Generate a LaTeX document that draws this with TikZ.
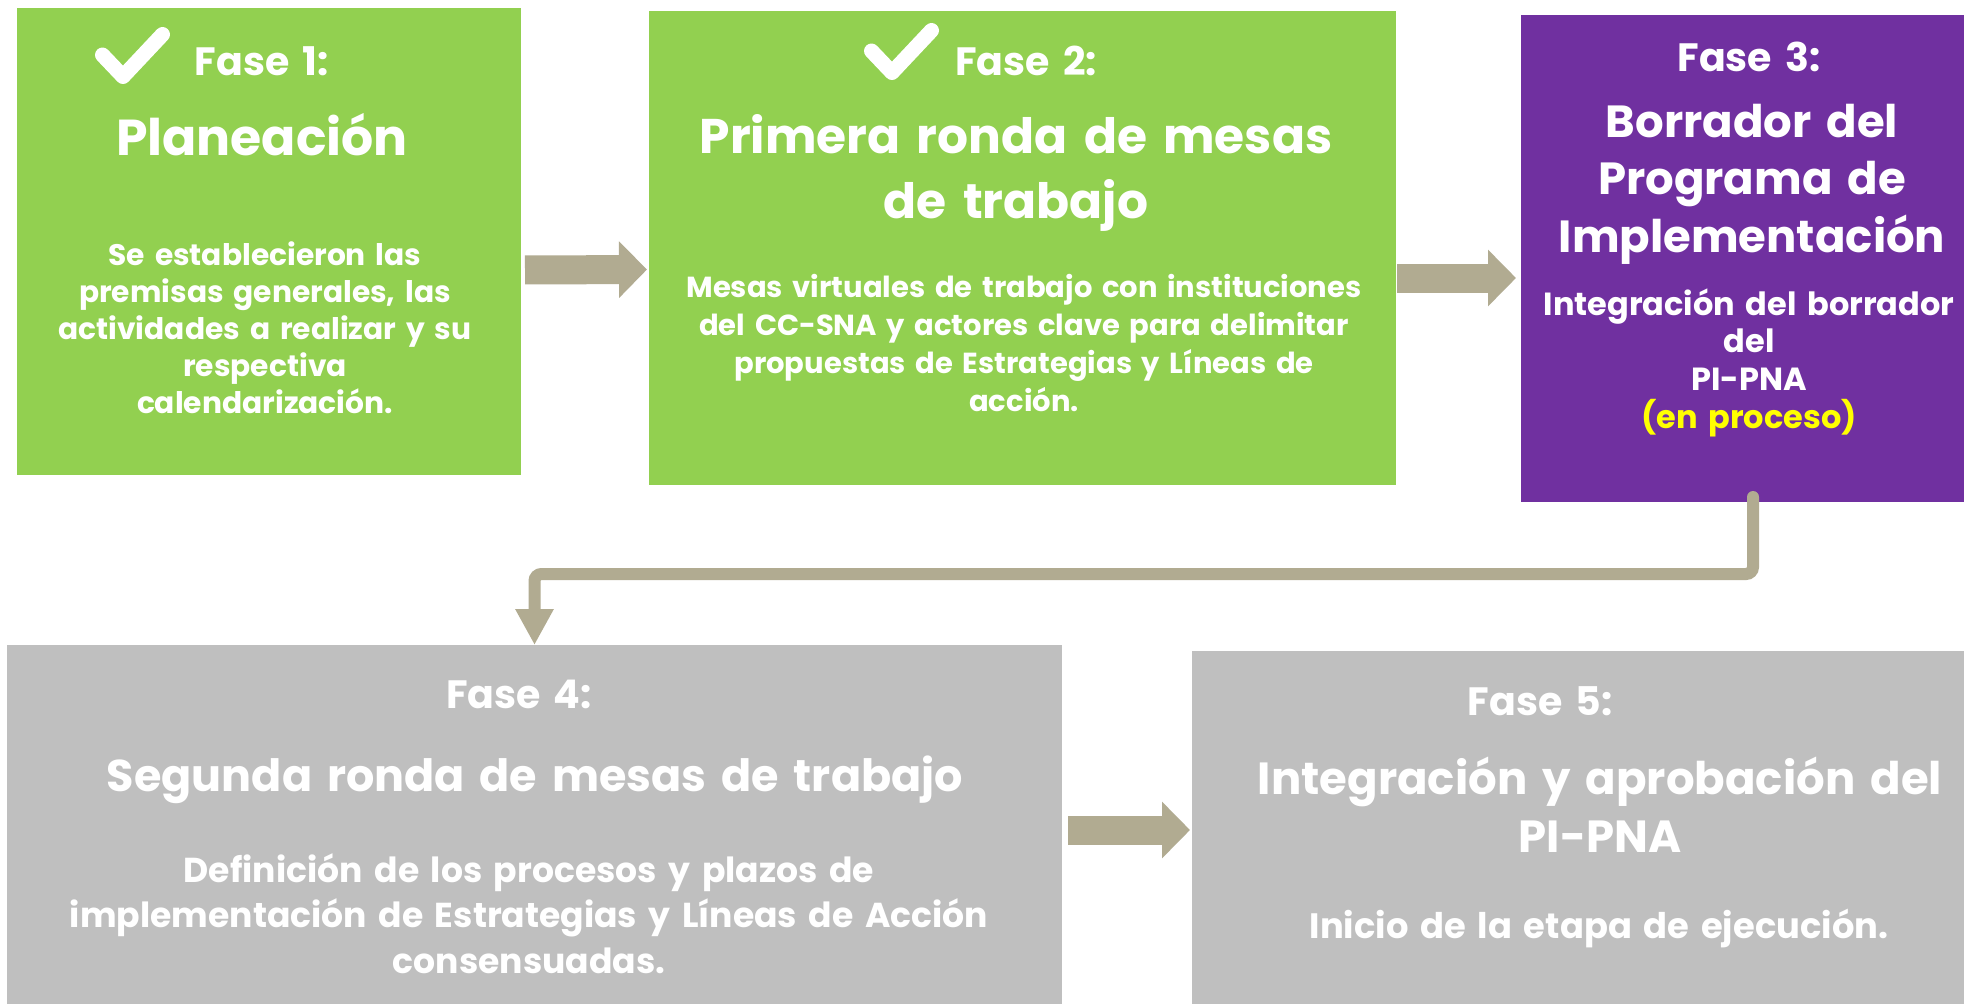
\documentclass[tikz,border=0pt]{standalone}
\usepackage{fontspec}
\setmainfont{Poppins}
\usetikzlibrary{arrows.meta}
\definecolor{fgreen}{HTML}{92D050}
\definecolor{fpurple}{HTML}{7030A0}
\definecolor{fgray}{HTML}{BFBFBF}
\definecolor{ftan}{HTML}{B1AB91}
\definecolor{fyellow}{HTML}{FFFF00}
\begin{document}
\begin{tikzpicture}[x=1pt,y=-1pt,
  box/.style={draw=none, inner sep=0pt, outer sep=0pt, anchor=center},
  txt/.style={text=white, inner sep=0pt, anchor=base, align=center, text width=1100pt},
  fase/.style={txt, font={\fontsize{39.5}{45}\selectfont\bfseries}},
  blockarr/.style={draw=ftan, line width=29pt, -{Triangle[length=28pt,width=55pt]}},
  elbow/.style={draw=ftan, line width=12pt, line cap=round, rounded corners=7pt, -{Triangle[length=36pt,width=36pt]}},
  checkm/.style={draw=white, line width=15pt, line cap=round, line join=round}
]
\useasboundingbox (0,0) rectangle (1964,1004);
\fill[white] (0,0) rectangle (1964,1004);

% boxes
\node[box, fill=fgreen, minimum width=504pt, minimum height=467pt] (b1) at (269,241.5) {};
\node[box, fill=fgreen, minimum width=747pt, minimum height=474pt] (b2) at (1022.5,248) {};
\node[box, fill=fpurple, minimum width=443pt, minimum height=487pt] (b3) at (1742.5,258.5) {};
\node[box, fill=fgray, minimum width=1055pt, minimum height=359pt] (b4) at (534.5,824.5) {};
\node[box, fill=fgray, minimum width=772pt, minimum height=353pt] (b5) at (1578,827.5) {};

% check marks
\draw[checkm] (102.5,55) -- (123,76.5) -- (162.5,34.5);
\draw[checkm] (871.5,51) -- (892,72.5) -- (931.5,30.5);

% box 1
\node[fase] (f1) at (262,75) {Fase 1:};
\node[txt, font={\fontsize{50.5}{60}\selectfont\bfseries}] (t1) at (262,155) {Planeación};
\node[txt, font={\fontsize{29.7}{37}\selectfont\bfseries}] (d1) at (265,265) {Se establecieron las\\premisas generales, las\\actividades a realizar y su\\respectiva\\calendarización.};

% box 2
\node[fase] (f2) at (1026,75) {Fase 2:};
\node[txt, font={\fontsize{48.7}{65}\selectfont\bfseries}] (t2) at (1016,153) {Primera ronda de mesas\\de trabajo};
\node[txt, font={\fontsize{29}{38}\selectfont\bfseries}] (d2) at (1024,297) {Mesas virtuales de trabajo con instituciones\\del CC-SNA y actores clave para delimitar\\propuestas de Estrategias y Líneas de\\acción.};

% box 3
\node[fase] (f3) at (1749,71) {Fase 3:};
\node[txt, font={\fontsize{45}{57.5}\selectfont\bfseries}] (t3) at (1752,137) {Borrador del\\Programa de\\Implementación};
\node[txt, font={\fontsize{32}{37.8}\selectfont\bfseries}] (d3) at (1749,315) {Integración del borrador\\del\\PI-PNA\\\textcolor{fyellow}{(en proceso)}};

% box 4
\node[fase] (f4) at (519,708) {Fase 4:};
\node[txt, font={\fontsize{44.5}{55}\selectfont\bfseries}] (t4) at (535,791) {Segunda ronda de mesas de trabajo};
\node[txt, font={\fontsize{34.6}{45.5}\selectfont\bfseries}] (d4) at (529,882) {Definición de los procesos y plazos de\\implementación de Estrategias y Líneas de Acción\\consensuadas.};

% box 5
\node[fase] (f5) at (1540,715) {Fase 5:};
\node[txt, font={\fontsize{45}{58}\selectfont\bfseries}] (t5) at (1600,794) {Integración y aprobación del\\PI-PNA};
\node[txt, font={\fontsize{35.3}{45}\selectfont\bfseries}] (d5) at (1599,938) {Inicio de la etapa de ejecución.};

% connectors
\draw[blockarr, shorten <=4pt, shorten >=2pt] ([yshift=-28.5pt]b1.east) -- ([yshift=-21.5pt]b2.west);
\draw[blockarr, shorten <=1pt, shorten >=5pt] ([yshift=-30pt]b2.east) -- ([yshift=-19.5pt]b3.west);
\draw[blockarr, shorten <=6pt, shorten >=2pt] ([yshift=-5.5pt]b4.east) -- ([yshift=-2.5pt]b5.west);
\draw[elbow] ([xshift=10.5pt,yshift=5pt]b3.south) |- ([yshift=71pt]b4.north) -- (b4.north);
\end{tikzpicture}
\end{document}
